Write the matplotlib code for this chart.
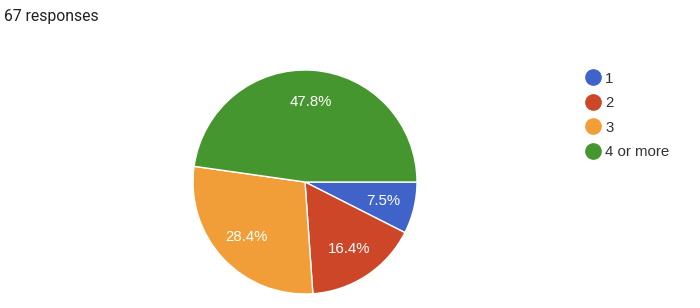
import matplotlib
matplotlib.use("Agg")
import matplotlib.pyplot as plt
from matplotlib.lines import Line2D

# Responses per answer option (67 total)
labels = ["1", "2", "3", "4 or more"]
counts = [5, 11, 19, 32]
colors = ["#3f63c8", "#cd4628", "#f19e38", "#46962f"]

W, H = 700, 308
fig = plt.figure(figsize=(W / 100, H / 100), dpi=100)

fig.text(4 / W, 1 - 17 / H, "67 responses", family="Roboto", fontsize=11.3,
         color="#202124", ha="left", va="center")

# pie: center (305, 182), radius 112 px
ax = fig.add_axes([193 / W, 14 / H, 224 / W, 224 / H])
wedges, _, autotexts = ax.pie(
    counts,
    colors=colors,
    startangle=0,
    counterclock=False,
    autopct="%1.1f%%",
    pctdistance=0.72,
    wedgeprops=dict(edgecolor="white", linewidth=1),
    textprops=dict(color="white", fontsize=10.8, family="Liberation Sans"),
)
ax.set_xlim(-1, 1)
ax.set_ylim(-1, 1)
ax.set_aspect("equal")

handles = [Line2D([], [], marker="o", linestyle="none", markersize=11,
                  markerfacecolor=c, markeredgecolor=c) for c in colors]
fig.legend(handles, labels, loc="upper left",
           bbox_to_anchor=(578 / W, 1 - 64 / H), frameon=False,
           prop=dict(family="Liberation Sans", size=10.8),
           labelcolor="#333333", handlelength=1.0, handletextpad=0.3,
           labelspacing=0.7, borderpad=0)

fig.savefig("out.png", dpi=100)
